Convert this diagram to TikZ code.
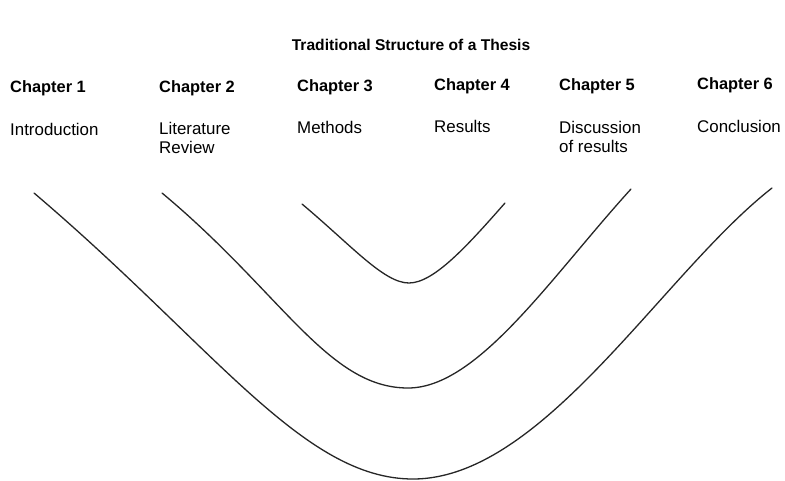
\documentclass[tikz,border=0pt]{standalone}
\usepackage{fontspec}
\setmainfont{Liberation Sans}
\begin{document}
\begin{tikzpicture}[x=1pt,y=-1pt,
  head/.style={anchor=base west,inner sep=0pt,font=\fontsize{16.4}{19}\selectfont\bfseries},
  label/.style={anchor=base west,inner sep=0pt,font=\fontsize{16.9}{19}\selectfont},
  titlestyle/.style={anchor=base,inner sep=0pt,font=\fontsize{15.6}{19}\selectfont\bfseries},
  curve/.style={line width=1.3pt,black!85,line cap=round}]
\useasboundingbox[fill=white] (0,0) rectangle (785,480);
\node[titlestyle] (title) at (411,50) {Traditional Structure of a Thesis};
\node[head] (c1) at (10,92) {Chapter 1};
\node[head] (c2) at (159,92) {Chapter 2};
\node[head] (c3) at (297,91) {Chapter 3};
\node[head] (c4) at (434,90) {Chapter 4};
\node[head] (c5) at (559,90) {Chapter 5};
\node[head] (c6) at (697,89) {Chapter 6};
\node[label] (t1) at (10,135) {Introduction};
\node[label] (t2) at (159,134) {Literature};
\node[label] (t2b) at (159,153) {Review};
\node[label] (t3) at (297,133) {Methods};
\node[label] (t4) at (434,132) {Results};
\node[label] (t5) at (559,133) {Discussion};
\node[label] (t5b) at (559,152) {of results};
\node[label] (t6) at (697,132) {Conclusion};
% inner curve
\draw[curve] (302,204) .. controls (352,246) and (384,283) .. (409,283)
                       .. controls (434,283) and (468,245) .. (505,203);
% middle curve
\draw[curve] (162,193) .. controls (282,293) and (328,388) .. (408,388)
                       .. controls (478,388) and (551,277) .. (631,189);
% outer curve
\draw[curve] (34,193) .. controls (214,346) and (303,479) .. (413,479)
                      .. controls (543,479) and (662,274) .. (772,188);
\end{tikzpicture}
\end{document}
